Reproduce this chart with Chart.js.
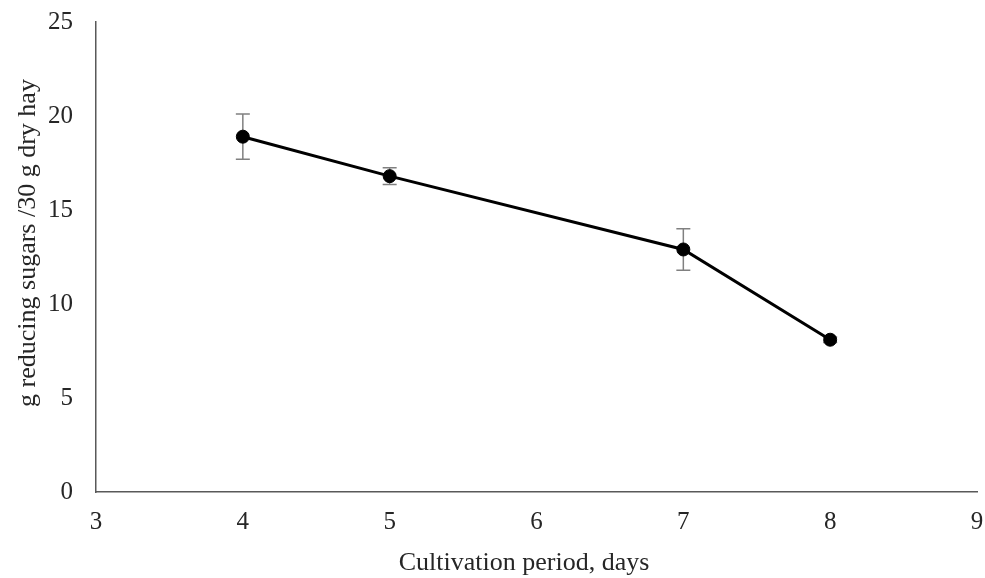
<!DOCTYPE html>
<html>
<head>
<meta charset="utf-8">
<script src="https://cdn.jsdelivr.net/npm/chart.js@4"></script>
<style>
  html, body { margin: 0; padding: 0; background: #fff; }
  #wrap { width: 985px; height: 578px; }
</style>
</head>
<body>
<div id="wrap"><canvas id="sugarChart"></canvas></div>
<script>
  const days = [4, 5, 7, 8];
  const sugars = [18.9, 16.8, 12.9, 8.1];
  const errors = [1.2, 0.45, 1.1, 0.15];
  const xTicks = [3, 4, 5, 6, 7, 8, 9];
  const yTicks = [0, 5, 10, 15, 20, 25];
  const xTitle = "Cultivation period, days";
  const yTitle = "g reducing sugars /30 g dry hay";

  const serif = "'Liberation Serif', 'Times New Roman', serif";
  const textColor = "#262626";

  // vertical error bars with caps, drawn through the scales
  const errorBars = {
    id: "errorBars",
    beforeDatasetsDraw(chart) {
      const { ctx, scales } = chart;
      ctx.save();
      ctx.strokeStyle = "#808080";
      ctx.lineWidth = 1.5;
      days.forEach((d, i) => {
        const x = scales.x.getPixelForValue(d);
        const yHi = scales.y.getPixelForValue(sugars[i] + errors[i]);
        const yLo = scales.y.getPixelForValue(sugars[i] - errors[i]);
        ctx.beginPath();
        ctx.moveTo(x, yHi);
        ctx.lineTo(x, yLo);
        ctx.moveTo(x - 7, yHi);
        ctx.lineTo(x + 7, yHi);
        ctx.moveTo(x - 7, yLo);
        ctx.lineTo(x + 7, yLo);
        ctx.stroke();
      });
      ctx.restore();
    }
  };

  // axis titles, placed like the original (centred a bit off the plot area)
  const axisTitles = {
    id: "axisTitles",
    afterDraw(chart) {
      const { ctx } = chart;
      ctx.save();
      ctx.fillStyle = textColor;
      ctx.font = "26px " + serif;
      ctx.textAlign = "center";
      ctx.textBaseline = "middle";
      ctx.fillText(xTitle, 524, 563);
      ctx.translate(28, 243);
      ctx.rotate(-Math.PI / 2);
      ctx.fillText(yTitle, 0, 0);
      ctx.restore();
    }
  };

  new Chart(document.getElementById("sugarChart"), {
    type: "scatter",
    data: {
      datasets: [{
        data: days.map((d, i) => ({ x: d, y: sugars[i] })),
        showLine: true,
        borderColor: "#000",
        borderWidth: 3,
        backgroundColor: "#000",
        pointRadius: 6.5,
        pointBorderWidth: 1,
        pointHoverRadius: 6.5
      }]
    },
    options: {
      responsive: true,
      maintainAspectRatio: false,
      animation: false,
      layout: { padding: { top: 22, right: 8, left: 0, bottom: 0 } },
      plugins: { legend: { display: false }, tooltip: { enabled: false } },
      scales: {
        x: {
          type: "linear",
          min: 3,
          max: 9,
          afterBuildTicks: (s) => { s.ticks = xTicks.map(v => ({ value: v })); },
          afterFit: (s) => { s.height = 86; s.paddingLeft = 0; s.paddingRight = 0; },
          grid: { display: false, drawTicks: false },
          border: { color: "#595959", width: 1.5 },
          ticks: { color: textColor, padding: 15, maxRotation: 0, font: { family: serif, size: 25 } }
        },
        y: {
          min: 0,
          max: 25,
          afterBuildTicks: (s) => { s.ticks = yTicks.map(v => ({ value: v })); },
          afterFit: (s) => { s.width = 96; s.paddingTop = 0; s.paddingBottom = 0; },
          grid: { display: false, drawTicks: false },
          border: { color: "#595959", width: 1.5 },
          ticks: { color: textColor, padding: 23, font: { family: serif, size: 25 } }
        }
      }
    },
    plugins: [errorBars, axisTitles]
  });
</script>
</body>
</html>
